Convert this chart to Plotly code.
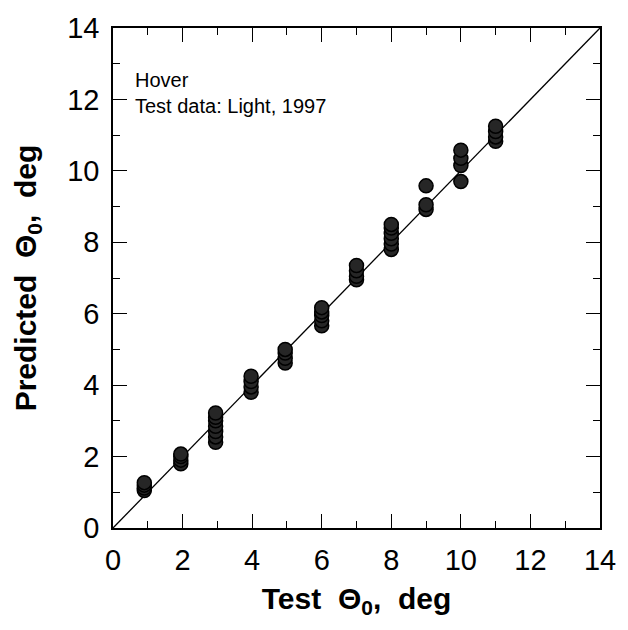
import plotly.graph_objects as go

# Test Θ0 (x) and predicted Θ0 (y)
test_x = [0.9]*4 + [1.95]*4 + [2.95]*7 + [3.97]*4 + [4.95]*4 + [6.0]*5 + [7.0]*4 + [8.0]*6 + [9.0]*3 + [10.0]*4 + [11.0]*4
pred_y = [1.05, 1.12, 1.2, 1.27,
          1.8, 1.9, 2.0, 2.07,
          2.4, 2.55, 2.7, 2.85, 3.0, 3.1, 3.22,
          3.8, 3.95, 4.1, 4.25,
          4.62, 4.75, 4.9, 5.0,
          5.66, 5.8, 5.95, 6.05, 6.17,
          6.95, 7.05, 7.2, 7.35,
          7.8, 7.95, 8.1, 8.25, 8.4, 8.5,
          8.92, 9.05, 9.58,
          9.7, 10.15, 10.35, 10.58,
          10.83, 10.95, 11.1, 11.25]
line_xy = [0, 14]
tick_vals = [0, 2, 4, 6, 8, 10, 12, 14]

FONT = "Liberation Sans, Arial, sans-serif"

fig = go.Figure()
fig.add_trace(go.Scatter(x=line_xy, y=line_xy, mode="lines",
                         line=dict(color="black", width=1.3), hoverinfo="skip"))
fig.add_trace(go.Scatter(x=test_x, y=pred_y, mode="markers",
                         marker=dict(size=14, color="#262626",
                                     line=dict(color="black", width=1.5))))

axis_common = dict(range=[0, 14], tickvals=tick_vals, ticks="inside", ticklen=14,
                   tickwidth=1.3, tickcolor="black", showline=True, linecolor="black",
                   linewidth=1.5, mirror="allticks", showgrid=False, zeroline=False,
                   tickfont=dict(family=FONT, size=29, color="black"),
                   minor=dict(ticks="inside", dtick=1, ticklen=7, tickwidth=1, tickcolor="black"),
                   fixedrange=True)

fig.update_xaxes(**axis_common, ticklabelstandoff=5,
                 title=dict(text="<b>Test&nbsp; Θ<sub>0</sub>,&nbsp; deg</b>",
                            font=dict(family=FONT, size=30, color="black"), standoff=13))
fig.update_yaxes(**axis_common, ticklabelstandoff=6,
                 title=dict(text="<b>Predicted&nbsp; Θ<sub>0</sub>,&nbsp; deg</b>",
                            font=dict(family=FONT, size=30, color="black"), standoff=22))

fig.add_annotation(x=0.042, y=0.922, xref="paper", yref="paper", xanchor="left", yanchor="top",
                   align="left", showarrow=False,
                   text="Hover<br>Test data: Light, 1997",
                   font=dict(family=FONT, size=20, color="black"))

fig.update_layout(width=628, height=630, showlegend=False,
                  margin=dict(l=113, r=21, t=28, b=102),
                  paper_bgcolor="white", plot_bgcolor="white")

fig.write_html("out.html")
